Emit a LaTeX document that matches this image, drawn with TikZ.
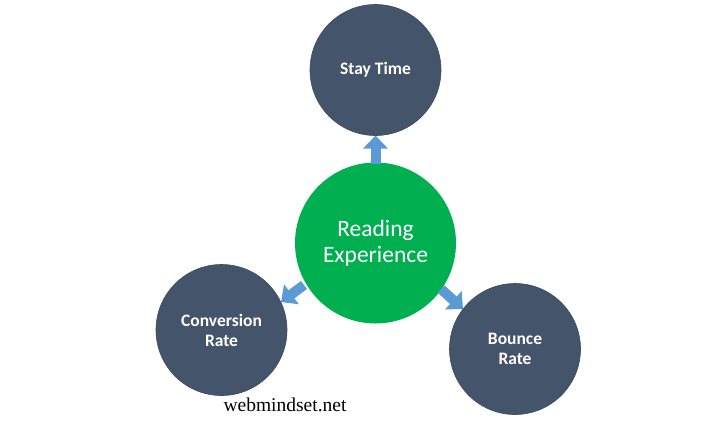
\documentclass[tikz,border=0pt]{standalone}
\usepackage{fontspec}
\setmainfont{Liberation Serif}
\newfontfamily\calib{Carlito}
\usetikzlibrary{arrows.meta}
\definecolor{darkslate}{HTML}{44546A}
\definecolor{darkedge}{HTML}{3B4A5E}
\definecolor{mygreen}{HTML}{00B050}
\definecolor{arrowblue}{HTML}{5B9BD5}
\tikzset{
  smallcirc/.style={circle, fill=darkslate, draw=darkedge, line width=0.6pt, minimum size=131pt, inner sep=0pt, text=white, font=\calib\bfseries\fontsize{17.5}{20}\selectfont, align=center},
  bigcirc/.style={circle, fill=mygreen, draw=none, minimum size=161pt, inner sep=0pt, text=white, font=\calib\fontsize{23.5}{26.5}\selectfont, align=center},
  blockarrow/.style={draw=arrowblue, line width=10pt, -{Triangle[width=24pt,length=13pt,fill=arrowblue]}},
}
\begin{document}
\begin{tikzpicture}[x=1pt,y=-1pt]
\useasboundingbox (0,0) rectangle (712,424);
\fill[white] (0,0) rectangle (712,424);
\node[bigcirc] (center) at (375.5,243) {Reading\\Experience};
\node[smallcirc] (stay) at (375.5,70) {Stay Time};
\node[smallcirc] (conv) at (221.5,330) {Conversion\\Rate};
\node[smallcirc] (bounce) at (515,349) {Bounce\\Rate};
\coordinate (a1s) at (375.5,164);
\coordinate (a1e) at (375.5,135.5);
\coordinate (a2s) at (304,285);
\coordinate (a2e) at (281,302);
\coordinate (a3s) at (441,289);
\coordinate (a3e) at (463,309);
\draw[blockarrow] (a1s) -- (a1e);
\draw[blockarrow] (a2s) -- (a2e);
\draw[blockarrow] (a3s) -- (a3e);
\node[font=\fontsize{19.5}{22}\selectfont, anchor=base] (site) at (285,411) {webmindset.net};
\end{tikzpicture}
\end{document}
